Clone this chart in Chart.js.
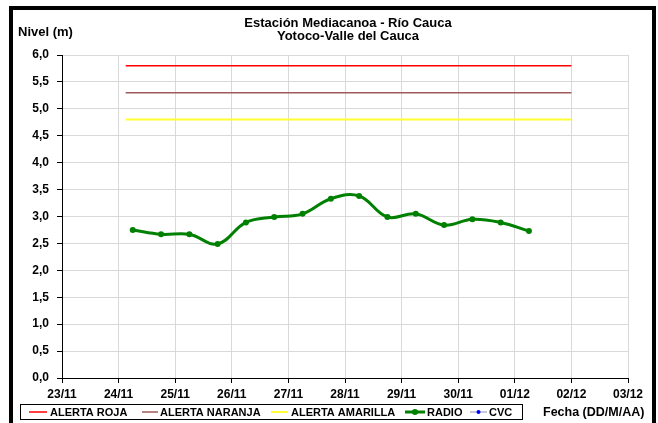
<!DOCTYPE html>
<html>
<head>
<meta charset="utf-8">
<script src="https://cdn.jsdelivr.net/npm/chart.js@4"></script>
<style>
  html, body { margin: 0; padding: 0; background: #fff; }
</style>
</head>
<body>
<canvas id="nivelChart" width="658" height="423"></canvas>
<script>
// etiquetas del eje x (un dia por marca)
const dayLabels = ['23/11', '24/11', '25/11', '26/11', '27/11', '28/11', '29/11', '30/11', '01/12', '02/12', '03/12'];

// lecturas RADIO cada 12 horas
const radioFechas = ['24/11 06:00', '24/11 18:00', '25/11 06:00', '25/11 18:00', '26/11 06:00', '26/11 18:00',
  '27/11 06:00', '27/11 18:00', '28/11 06:00', '28/11 18:00', '29/11 06:00', '29/11 18:00',
  '30/11 06:00', '30/11 18:00', '01/12 06:00'];
const radioNivel = [2.75, 2.67, 2.67, 2.49, 2.89, 2.99, 3.05, 3.33, 3.38, 2.99, 3.05, 2.84, 2.95, 2.89, 2.73];

// niveles de alerta
const alertaFechas = ['24/11 03:00', '02/12 00:00'];
const alertaRoja = [5.8, 5.8];
const alertaNaranja = [5.3, 5.3];
const alertaAmarilla = [4.8, 4.8];

// CVC sin datos en el periodo
const cvcFechas = [];
const cvcNivel = [];

// dias desde 23/11 00:00
function diaX(s) {
  const [fecha, hora] = s.split(' ');
  const [d, m] = fecha.split('/').map(Number);
  const h = Number(hora.split(':')[0]);
  return (m === 11 ? d - 23 : d + 7) + h / 24;
}
const puntos = (fechas, vals) => fechas.map((f, i) => ({ x: diaX(f), y: vals[i] }));

const FONT = '"Liberation Sans", Arial, sans-serif';

const extras = {
  id: 'extras',
  beforeDraw(chart) {
    const c = chart.ctx;
    c.save();
    c.fillStyle = '#fff';
    c.fillRect(0, 0, chart.width, chart.height);
    c.restore();
  },
  afterDraw(chart) {
    const c = chart.ctx;
    c.save();
    // marco
    c.strokeStyle = '#000';
    c.lineWidth = 4;
    c.strokeRect(11, 8, 643, 430);

    c.fillStyle = '#000';
    c.textBaseline = 'middle';
    c.font = 'bold 13px ' + FONT;
    c.textAlign = 'center';
    c.fillText('Estación Mediacanoa - Río Cauca', 348, 23);
    c.fillText('Yotoco-Valle del Cauca', 348, 36);
    c.textAlign = 'left';
    c.fillText('Nivel (m)', 18, 32);

    // leyenda
    c.lineWidth = 1;
    c.strokeRect(20.5, 404.5, 502, 15);
    const ly = 412;
    const items = [
      { x1: 29, x2: 47, tx: 50, color: '#ff0000', text: 'ALERTA ROJA' },
      { x1: 142, x2: 158, tx: 160, color: '#a05a5a', text: 'ALERTA NARANJA' },
      { x1: 271, x2: 288, tx: 291, color: '#ffff33', text: 'ALERTA AMARILLA', w: 2 },
      { x1: 405, x2: 425, tx: 427, color: '#008000', text: 'RADIO', w: 3, dot: '#008000', r: 3 },
      { x1: 470, x2: 487, tx: 489, color: '#b4b4c8', text: 'CVC', dot: '#0000ff', r: 2 }
    ];
    c.font = 'bold 11px ' + FONT;
    items.forEach(it => {
      c.strokeStyle = it.color;
      c.lineWidth = it.w || 1.5;
      c.beginPath();
      c.moveTo(it.x1, ly);
      c.lineTo(it.x2, ly);
      c.stroke();
      if (it.dot) {
        c.fillStyle = it.dot;
        c.beginPath();
        c.arc((it.x1 + it.x2) / 2, ly, it.r, 0, Math.PI * 2);
        c.fill();
      }
      c.fillStyle = '#000';
      c.fillText(it.text, it.tx, ly + 1);
    });
    c.font = 'bold 12.5px ' + FONT;
    c.fillText('Fecha (DD/M/AA)', 543, 413);
    c.restore();
  }
};

const ctx = document.getElementById('nivelChart').getContext('2d');
new Chart(ctx, {
  type: 'line',
  data: {
    datasets: [
      { label: 'ALERTA ROJA', data: puntos(alertaFechas, alertaRoja), borderColor: '#ff0000', borderWidth: 1.5, pointRadius: 0, tension: 0 },
      { label: 'ALERTA NARANJA', data: puntos(alertaFechas, alertaNaranja), borderColor: '#a05a5a', borderWidth: 1.5, pointRadius: 0, tension: 0 },
      { label: 'ALERTA AMARILLA', data: puntos(alertaFechas, alertaAmarilla), borderColor: '#ffff33', borderWidth: 2, pointRadius: 0, tension: 0 },
      { label: 'RADIO', data: puntos(radioFechas, radioNivel), borderColor: '#008000', backgroundColor: '#008000',
        borderWidth: 3, pointRadius: 3, pointBorderWidth: 0, tension: 0.4 },
      { label: 'CVC', data: puntos(cvcFechas, cvcNivel), borderColor: '#b4b4c8', backgroundColor: '#0000ff', pointRadius: 2 }
    ]
  },
  options: {
    responsive: false,
    animation: false,
    devicePixelRatio: 1,
    layout: { padding: { top: 55, right: 30, left: 0, bottom: 0 } },
    plugins: {
      legend: { display: false },
      title: { display: false },
      tooltip: { enabled: false }
    },
    scales: {
      x: {
        type: 'linear', min: 0, max: 10,
        afterFit: s => { s.height = 45; },
        ticks: {
          stepSize: 1, autoSkip: false, maxRotation: 0, padding: 4, color: '#000',
          font: { family: FONT, size: 12, weight: 'bold' },
          callback: v => dayLabels[v]
        },
        grid: { color: '#d9d9d9', tickColor: '#000', tickLength: 5, lineWidth: 1 },
        border: { color: '#000', width: 1 }
      },
      y: {
        min: 0, max: 6,
        afterFit: s => { s.width = 62; },
        ticks: {
          stepSize: 0.5, padding: 8, color: '#000',
          font: { family: FONT, size: 12, weight: 'bold' },
          callback: v => v.toFixed(1).replace('.', ',')
        },
        grid: { color: '#d9d9d9', tickColor: '#000', tickLength: 5, lineWidth: 1 },
        border: { color: '#000', width: 1 }
      }
    }
  },
  plugins: [extras]
});
</script>
</body>
</html>
